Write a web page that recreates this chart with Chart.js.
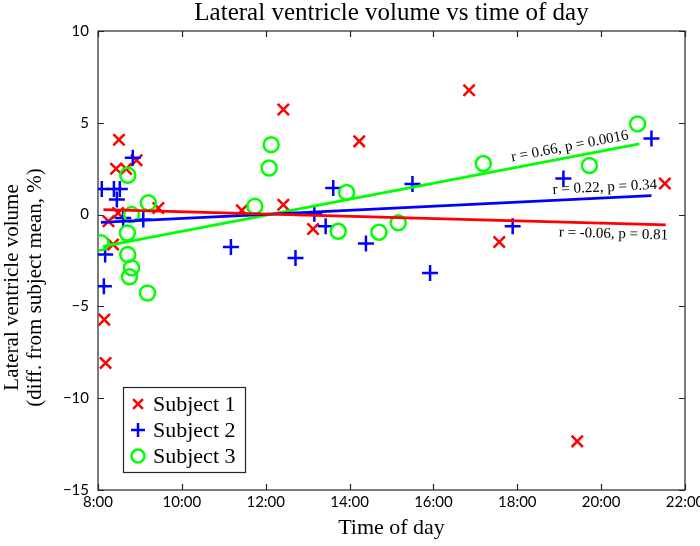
<!DOCTYPE html>
<html>
<head>
<meta charset="utf-8">
<script src="https://cdn.jsdelivr.net/npm/chart.js@4.4.0/dist/chart.umd.min.js"></script>
<style>
  html, body { margin: 0; padding: 0; background: #fff; }
</style>
</head>
<body>
<canvas id="chart" width="700" height="546"></canvas>
<script>
// time of day (decimal hours) and ventricle volume (diff. from subject mean, %)
const subj1Hours = [8.15, 8.18, 8.25, 8.36, 8.43, 8.48, 8.50, 8.67, 8.92, 9.44, 11.43, 12.42, 12.42, 13.13, 14.23, 16.85, 17.57, 19.43, 21.52];
const subj1Vals  = [-5.72, -8.08, -0.36, -1.63, 2.50, 0.09, 4.08, 2.49, 2.96, 0.36, 0.23, 5.72, 0.54, -0.78, 3.99, 6.77, -1.49, -12.35, 1.69];

const subj2Hours = [8.09, 8.38, 8.52, 8.45, 8.60, 9.08, 8.17, 8.14, 8.83, 11.17, 12.71, 13.16, 13.43, 13.61, 14.39, 15.50, 15.92, 17.89, 19.10, 21.20];
const subj2Vals  = [1.40, 1.40, 1.40, 0.82, -0.18, -0.27, -2.18, -3.90, 3.10, -1.76, -2.36, 0.04, -0.64, 1.45, -1.58, 1.67, -3.18, -0.64, 1.96, 4.14];

const subj3Hours = [8.07, 8.70, 8.71, 8.80, 8.75, 9.18, 8.80, 9.20, 8.71, 11.74, 12.08, 12.13, 13.73, 13.93, 14.70, 15.16, 17.19, 19.72, 20.87];
const subj3Vals  = [-1.54, -1.00, -2.18, -2.90, -3.39, -4.27, 0.00, 0.64, 2.14, 0.45, 2.54, 3.81, -0.91, 1.21, -0.96, -0.45, 2.78, 2.67, 4.94];

// regression line end points
const fit1Hours = [8.13, 21.54];
const fit1Vals  = [0.27, -0.56];
const fit2Hours = [8.07, 21.20];
const fit2Vals  = [-0.42, 1.03];
const fit3Hours = [8.12, 20.91];
const fit3Vals  = [-1.73, 3.85];

const fitTexts = ["r = -0.06, p = 0.81", "r = 0.22, p = 0.34", "r = 0.66, p = 0.0016"];
const fitTextHours = [20.3, 20.1, 19.3];

const subjectNames = ["Subject 1", "Subject 2", "Subject 3"];
const yTitleLines = ["Lateral ventricle volume", "(diff. from subject mean, %)"];
const xTicks = [8, 10, 12, 14, 16, 18, 20, 22];
const xTickLabels = ["8:00", "10:00", "12:00", "14:00", "16:00", "18:00", "20:00", "22:00"];
const yTicks = [10, 5, 0, -5, -10, -15];
const yTickLabels = ["10", "5", "0", "\u22125", "\u221210", "\u221215"];

const RED = "#ff0000", BLUE = "#0000ff", GREEN = "#00ff00";
const SERIF = "'Liberation Serif', serif";
const SANS = "Lato, 'Open Sans', sans-serif";

const toPts = (xs, ys) => xs.map((x, i) => ({ x: x, y: ys[i] }));

const markerStyles = [
  { pointStyle: "crossRot", radius: 8, color: RED },
  { pointStyle: "cross", radius: 8, color: BLUE },
  { pointStyle: "circle", radius: 7.5, color: GREEN }
];

function scatterSet(i, pts) {
  const m = markerStyles[i];
  return {
    type: "scatter",
    label: subjectNames[i],
    data: pts,
    pointStyle: m.pointStyle,
    pointRadius: m.radius,
    pointHoverRadius: m.radius,
    pointBorderColor: m.color,
    pointBackgroundColor: "rgba(0,0,0,0)",
    pointBorderWidth: 2.5,
    order: 1
  };
}

function fitSet(color, pts) {
  return {
    type: "line",
    data: pts,
    borderColor: color,
    borderWidth: 2.8,
    pointRadius: 0,
    fill: false,
    tension: 0,
    order: 0
  };
}

// frame with inward ticks, like the original plot
const framePlugin = {
  id: "frame",
  beforeDatasetsDraw(chart) {
    const { ctx, chartArea: a, scales } = chart;
    const tl = 6;
    ctx.save();
    ctx.strokeStyle = "#262626";
    ctx.lineWidth = 1.2;
    ctx.strokeRect(a.left, a.top, a.right - a.left, a.bottom - a.top);
    ctx.beginPath();
    xTicks.forEach(v => {
      const px = Math.round(scales.x.getPixelForValue(v)) + 0.5;
      ctx.moveTo(px, a.bottom); ctx.lineTo(px, a.bottom - tl);
      ctx.moveTo(px, a.top); ctx.lineTo(px, a.top + tl);
    });
    yTicks.forEach(v => {
      const py = Math.round(scales.y.getPixelForValue(v)) + 0.5;
      ctx.moveTo(a.left, py); ctx.lineTo(a.left + tl, py);
      ctx.moveTo(a.right, py); ctx.lineTo(a.right - tl, py);
    });
    ctx.stroke();
    ctx.restore();
  },
  afterDatasetsDraw(chart) {
    const { ctx, chartArea: a, scales } = chart;
    ctx.save();

    // r / p text along each fit line
    const fits = [[fit1Hours, fit1Vals], [fit2Hours, fit2Vals], [fit3Hours, fit3Vals]];
    ctx.font = "15px " + SERIF;
    ctx.fillStyle = "#000";
    ctx.textAlign = "center";
    fits.forEach((f, i) => {
      const x1 = scales.x.getPixelForValue(f[0][0]), y1 = scales.y.getPixelForValue(f[1][0]);
      const x2 = scales.x.getPixelForValue(f[0][1]), y2 = scales.y.getPixelForValue(f[1][1]);
      const ang = Math.atan2(y2 - y1, x2 - x1);
      const px = scales.x.getPixelForValue(fitTextHours[i]);
      const py = y1 + (y2 - y1) * (px - x1) / (x2 - x1);
      ctx.save();
      ctx.translate(px, py);
      ctx.rotate(ang);
      if (i === 0) {
        ctx.textBaseline = "top";
        ctx.fillText(fitTexts[i], 0, 3);
      } else {
        ctx.textBaseline = "bottom";
        ctx.fillText(fitTexts[i], 0, -3);
      }
      ctx.restore();
    });

    // legend box, lower left
    const lx = a.left + 25, ly = a.bottom - 103, lw = 122, lh = 85;
    ctx.fillStyle = "#fff";
    ctx.fillRect(lx, ly, lw, lh);
    ctx.strokeStyle = "#262626";
    ctx.lineWidth = 1.2;
    ctx.strokeRect(lx + 0.5, ly + 0.5, lw, lh);
    ctx.font = "22px " + SERIF;
    ctx.textAlign = "left";
    ctx.textBaseline = "middle";
    markerStyles.forEach((m, i) => {
      const cy = ly + 17 + i * 26;
      ctx.strokeStyle = m.color;
      ctx.fillStyle = "rgba(0,0,0,0)";
      ctx.lineWidth = 2.5;
      Chart.helpers.drawPoint(ctx, { pointStyle: m.pointStyle, radius: m.radius - 1, rotation: 0, borderWidth: 2.5 }, lx + 15, cy);
      ctx.fillStyle = "#000";
      ctx.fillText(subjectNames[i], lx + 30, cy + 1);
    });

    ctx.restore();
  },
  afterDraw(chart) {
    const { ctx, chartArea: a } = chart;
    ctx.save();
    ctx.fillStyle = "#000";
    ctx.textAlign = "center";
    ctx.textBaseline = "middle";
    ctx.font = "25px " + SERIF;
    ctx.fillText("Lateral ventricle volume vs time of day", (a.left + a.right) / 2, 13);

    // y axis title, two rotated lines, sitting a bit below the axis middle
    ctx.font = "21px " + SERIF;
    ctx.translate(0, (a.top + a.bottom) / 2 + 27);
    ctx.rotate(-Math.PI / 2);
    yTitleLines.forEach((t, i) => ctx.fillText(t, 0, 12 + i * 23));
    ctx.restore();
  }
};

new Chart(document.getElementById("chart"), {
  data: {
    datasets: [
      fitSet(RED, toPts(fit1Hours, fit1Vals)),
      fitSet(BLUE, toPts(fit2Hours, fit2Vals)),
      fitSet(GREEN, toPts(fit3Hours, fit3Vals)),
      scatterSet(2, toPts(subj3Hours, subj3Vals)),
      scatterSet(1, toPts(subj2Hours, subj2Vals)),
      scatterSet(0, toPts(subj1Hours, subj1Vals))
    ]
  },
  options: {
    responsive: false,
    animation: false,
    events: [],
    layout: { padding: { top: 31, right: 15, bottom: 0, left: 0 } },
    plugins: {
      legend: { display: false },
      tooltip: { enabled: false }
    },
    scales: {
      x: {
        type: "linear",
        min: 8,
        max: 22,
        afterBuildTicks: s => { s.ticks = xTicks.map(v => ({ value: v })); },
        afterFit: s => { s.height = 56; s.paddingLeft = 0; s.paddingRight = 0; },
        grid: { display: false, drawTicks: false },
        border: { display: false },
        ticks: {
          padding: 3,
          color: "#000",
          font: { family: SANS, size: 15 },
          callback: v => xTickLabels[xTicks.indexOf(v)]
        },
        title: {
          display: true,
          text: "Time of day",
          color: "#000",
          font: { family: SERIF, size: 22 },
          padding: { top: 0, bottom: 5 }
        }
      },
      y: {
        type: "linear",
        min: -15,
        max: 10,
        afterBuildTicks: s => { s.ticks = yTicks.slice().reverse().map(v => ({ value: v })); },
        afterFit: s => { s.width = 98; s.paddingTop = 0; s.paddingBottom = 0; },
        grid: { display: false, drawTicks: false },
        border: { display: false },
        ticks: {
          padding: 9,
          color: "#000",
          font: { family: SANS, size: 15 },
          callback: v => yTickLabels[yTicks.indexOf(v)]
        }
      }
    }
  },
  plugins: [framePlugin]
});
</script>
</body>
</html>
